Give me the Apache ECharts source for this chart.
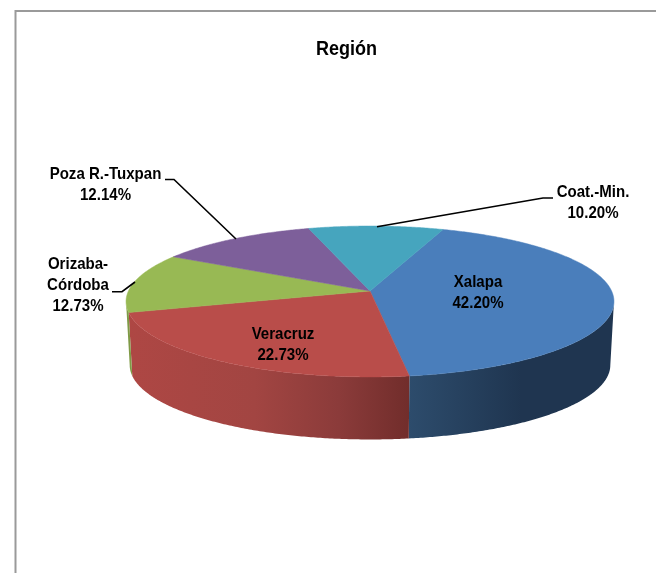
<!DOCTYPE html>
<html>
<head>
<meta charset="utf-8">
<style>html,body{margin:0;padding:0;background:#fff}#c{width:656px;height:573px}</style>
<script src="https://cdn.jsdelivr.net/npm/echarts@6/dist/echarts.min.js"></script>
</head>
<body>
<div id="c"></div>
<script>
var categories = ['Xalapa', 'Veracruz', 'Orizaba-\nCórdoba', 'Poza R.-Tuxpan', 'Coat.-Min.'];
var shares = [42.20, 22.73, 12.73, 12.14, 10.20];
var chartTitle = 'Región';

var topColors = ['#4a7ebb', '#b94d4a', '#98b954', '#7d5f9a', '#46a5be'];
var wallStops = [
  [[0, '#2d4c6c'], [0.55, '#1f3550'], [1, '#1f3550']],
  [[0, '#ae4744'], [0.45, '#a24542'], [0.75, '#8b3b3a'], [1, '#712d2b']],
  [[0, '#7f9a46'], [1, '#7f9a46']],
  [[0, '#5f4876'], [1, '#5f4876']],
  [[0, '#357d90'], [1, '#357d90']]
];
var labelAt = [[478, 293], [283, 345], [78, 285], [105.5, 185], [593, 203]];
var leaders = [
  null,
  null,
  [[112, 291.7], [122, 291.7], [135, 282]],
  [[165, 179.5], [174, 179.5], [236, 239]],
  [[553, 198], [543, 198], [377, 226.7]]
];

var START = 20, CX = 370, CY = 291, K = 0.139, RY = 74, RX = 241.6;
var SCALE = 0.985, BOTTOM_CY = 354.8, VIS_A = 98, VIS_B = 262;
var total = shares.reduce(function (a, b) { return a + b; }, 0);
var FONT = '"Liberation Sans", Arial, sans-serif';

function project(deg, bottom) {
  var r = deg * Math.PI / 180, u = Math.sin(r), v = -Math.cos(r), s = 1 - K * v;
  var f = bottom ? SCALE : 1;
  return [CX + f * RX * u / s, (bottom ? BOTTOM_CY : CY) + f * RY * v / s];
}
function arc(a, b, bottom) {
  var pts = [], n = Math.max(2, Math.ceil(Math.abs(b - a) * 2));
  for (var i = 0; i <= n; i++) pts.push(project(a + (b - a) * i / n, bottom));
  return pts;
}
function renderItem(params, api) {
  var idx = params.dataIndex, acc = 0;
  for (var i = 0; i < idx; i++) acc += shares[i];
  var val = api.value(0);
  var a = START + acc / total * 360, b = a + val / total * 360;
  var kids = [];
  var wa = Math.max(a, VIS_A), wb = Math.min(b, VIS_B);
  if (wb > wa) {
    kids.push({
      type: 'polygon',
      shape: { points: arc(wa, wb, false).concat(arc(wb, wa, true)) },
      style: {
        fill: { type: 'linear', x: 0, y: 0, x2: 1, y2: 0,
          colorStops: wallStops[idx].map(function (s) { return { offset: s[0], color: s[1] }; }) }
      }
    });
  }
  kids.push({
    type: 'polygon',
    shape: { points: [[CX, CY]].concat(arc(a, b, false)) },
    style: { fill: topColors[idx], stroke: topColors[idx], lineWidth: 0.5 }
  });
  if (leaders[idx]) {
    kids.push({
      type: 'polyline',
      shape: { points: leaders[idx] },
      style: { fill: null, stroke: '#000', lineWidth: 1.6 }
    });
  }
  kids.push({
    type: 'text',
    x: labelAt[idx][0], y: labelAt[idx][1],
    scaleX: 0.885,
    style: {
      text: categories[idx] + '\n' + val.toFixed(2) + '%',
      fill: '#000',
      font: 'bold 17px ' + FONT,
      lineHeight: 21,
      align: 'center',
      verticalAlign: 'middle'
    }
  });
  return { type: 'group', children: kids };
}

var chart = echarts.init(document.getElementById('c'), null, { renderer: 'canvas' });
chart.setOption({
  animation: false,
  backgroundColor: '#fff',
  graphic: [{
    type: 'polyline',
    shape: { points: [[15.5, 573], [15.5, 11], [656, 11]] },
    style: { fill: null, stroke: '#9a9a9a', lineWidth: 2 },
    silent: true
  }, {
    type: 'text',
    x: 346.5, y: 49.5,
    scaleX: 0.9,
    style: {
      text: chartTitle, fill: '#000',
      font: 'bold 20px ' + FONT,
      align: 'center', verticalAlign: 'middle'
    },
    silent: true
  }],
  series: [{
    type: 'custom',
    coordinateSystem: 'none',
    renderItem: renderItem,
    data: shares.map(function (v, i) { return { name: categories[i], value: [v] }; })
  }]
});
</script>
</body>
</html>
